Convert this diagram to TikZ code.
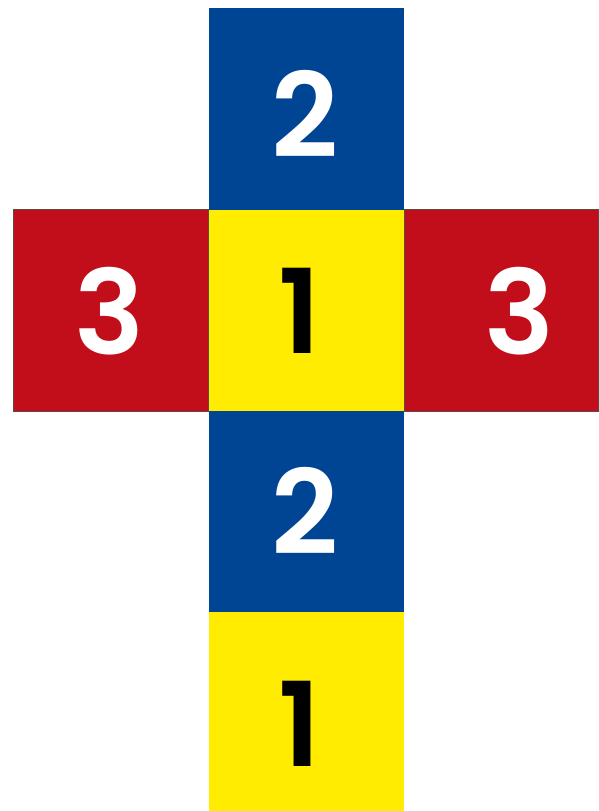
\documentclass[tikz,border=0pt]{standalone}
\usepackage{fontspec}
\newfontfamily\digitfont{Poppins}[UprightFont=* SemiBold]
\definecolor{netblue}{HTML}{004494}
\definecolor{netyellow}{HTML}{FFEC00}
\definecolor{netred}{HTML}{C10E1A}
\definecolor{netedge}{HTML}{5A4A4A}
\begin{document}
\begin{tikzpicture}[x=1pt,y=-1pt,
  digit/.style={inner sep=0pt,font=\digitfont\fontsize{117}{117}\selectfont},
  redface/.style={fill=netred,draw=netedge,line width=0.8pt}]
\useasboundingbox (0,0) rectangle (599,811);
% faces
\fill[netblue] (209,8) rectangle (403.5,209.5);
\fill[netyellow] (209,209.5) rectangle (403.5,410.5);
\fill[netblue] (209,410.5) rectangle (403.5,612);
\fill[netyellow] (209,612) rectangle (403.5,811);
\draw[redface] (13,209.5) rectangle (208.5,411);
\draw[redface] (404,209.5) rectangle (598.5,411);
% digits
\node[digit,text=white] (d2a) at (305,113.5) {2};
\node[digit,text=white] (d3l) at (109.5,311.5) {3};
\node[digit,text=black] (d1a) at (300,311) {1};
\node[digit,text=white] (d3r) at (519.5,311.5) {3};
\node[digit,text=white] (d2b) at (305,510.5) {2};
\node[digit,text=black] (d1b) at (300,723.7) {1};
\end{tikzpicture}
\end{document}
